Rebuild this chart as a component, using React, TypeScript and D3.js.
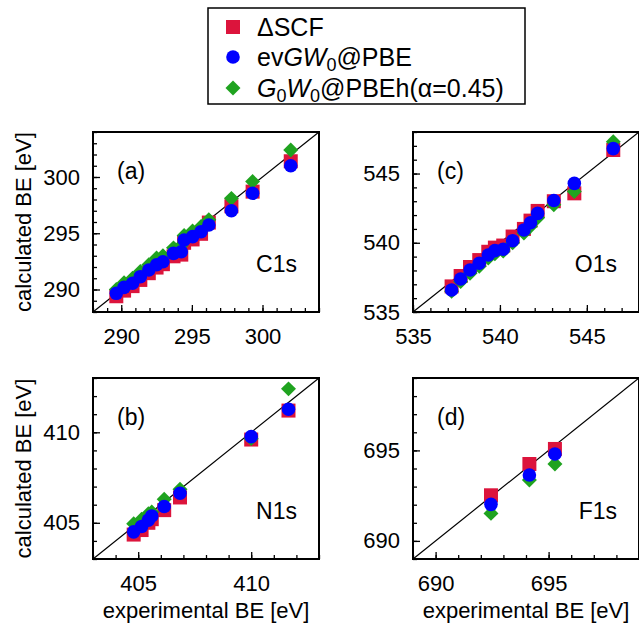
import React, { useEffect, useRef } from "react";
import * as d3 from "d3";

// C1s (panel a)
const c1sExp = [289.65, 290.2, 290.8, 291.35, 291.95, 292.5, 292.95, 293.7, 294.25, 294.45, 295.05, 295.65, 296.2, 297.8, 299.3, 302.0];
const c1sDscf = [289.4, 289.9, 290.3, 290.85, 291.45, 291.95, 292.25, 292.95, 293.1, 294.15, 294.45, 294.95, 295.95, 297.4, 298.7, 301.4];
const c1sEvgw = [289.66, 290.19, 290.55, 291.14, 291.73, 292.2, 292.47, 293.21, 293.36, 294.4, 294.7, 295.14, 295.73, 297.0, 298.55, 301.0];
const c1sG0w0 = [290.0, 290.6, 291.0, 291.6, 292.2, 292.8, 293.0, 293.7, 293.9, 294.8, 295.2, 295.6, 296.2, 298.1, 299.6, 302.4];

// N1s (panel b)
const n1sExp = [404.8, 405.15, 405.45, 405.6, 406.15, 406.85, 410.0, 411.65];
const n1sDscf = [404.35, 404.6, 405.0, 405.2, 405.7, 406.4, 409.6, 411.2];
const n1sEvgw = [404.5, 404.8, 405.15, 405.38, 405.9, 406.63, 409.76, 411.27];
const n1sG0w0 = [404.95, 405.2, 405.5, 405.6, 406.3, 406.85, 409.65, 412.4];

// O1s (panel c)
const o1sExp = [537.22, 537.74, 538.28, 538.81, 539.33, 539.71, 540.19, 540.73, 541.38, 541.76, 542.17, 543.1, 544.28, 546.52];
const o1sDscf = [536.85, 537.6, 538.25, 538.75, 539.35, 539.65, 539.8, 540.45, 541.0, 541.6, 542.3, 543.0, 543.57, 546.7];
const o1sEvgw = [536.59, 537.38, 538.03, 538.52, 539.12, 539.43, 539.53, 540.15, 540.92, 541.45, 542.12, 543.05, 544.29, 546.8];
const o1sG0w0 = [536.5, 537.2, 537.8, 538.3, 538.9, 539.2, 539.4, 540.0, 540.7, 541.2, 541.8, 542.75, 543.7, 547.3];

// F1s (panel d)
const f1sExp = [692.45, 694.15, 695.28];
const f1sDscf = [692.52, 694.25, 695.08];
const f1sEvgw = [692.02, 693.64, 694.8];
const f1sG0w0 = [691.52, 693.36, 694.25];

const panels = [
  { tag: "(a)", core: "C1s", exp: c1sExp, dscf: c1sDscf, evgw: c1sEvgw, g0w0: c1sG0w0, lo: 288, hi: 304, major: [290, 295, 300], col: 0, row: 0 },
  { tag: "(c)", core: "O1s", exp: o1sExp, dscf: o1sDscf, evgw: o1sEvgw, g0w0: o1sG0w0, lo: 535, hi: 548, major: [535, 540, 545], col: 1, row: 0 },
  { tag: "(b)", core: "N1s", exp: n1sExp, dscf: n1sDscf, evgw: n1sEvgw, g0w0: n1sG0w0, lo: 403, hi: 413, major: [405, 410], col: 0, row: 1 },
  { tag: "(d)", core: "F1s", exp: f1sExp, dscf: f1sDscf, evgw: f1sEvgw, g0w0: f1sG0w0, lo: 689, hi: 699, major: [690, 695], col: 1, row: 1 },
];

const RED = "#dc143c";
const BLUE = "#0000ff";
const GREEN = "#1fa31f";

export default function App() {
  const svgRef = useRef<SVGSVGElement>(null);

  useEffect(() => {
    const W = 639;
    const H = 624;
    const svg = d3.select(svgRef.current);
    svg.selectAll("*").remove();
    svg
      .attr("width", W)
      .attr("height", H)
      .style("font-family", "'Liberation Sans', Arial, sans-serif");

    const colX = [93, 413];
    const rowY = [132, 378];
    const pw = 226;
    const ph = [180, 181];

    const square = d3.symbol().type(d3.symbolSquare).size(196);
    const circle = d3.symbol().type(d3.symbolCircle).size(145);
    const diamond = d3.symbol().type(d3.symbolSquare).size(112);

    panels.forEach((p) => {
      const x0 = colX[p.col];
      const y0 = rowY[p.row];
      const h = ph[p.row];
      const g = svg.append("g").attr("transform", `translate(${x0},${y0})`);

      const x = d3.scaleLinear().domain([p.lo, p.hi]).range([0, pw]);
      const y = d3.scaleLinear().domain([p.lo, p.hi]).range([h, 0]);
      const minor = d3.range(p.lo, p.hi + 1);

      // minor ticks (inward)
      g.append("g")
        .attr("transform", `translate(0,${h})`)
        .call(d3.axisBottom(x).tickValues(minor).tickSize(-4).tickFormat(() => ""))
        .call((a) => a.select(".domain").remove())
        .selectAll("line").attr("stroke-width", 1.3);
      g.append("g")
        .call(d3.axisLeft(y).tickValues(minor).tickSize(-4).tickFormat(() => ""))
        .call((a) => a.select(".domain").remove())
        .selectAll("line").attr("stroke-width", 1.3);

      // major ticks + labels
      const xa = g.append("g")
        .attr("transform", `translate(0,${h})`)
        .call(d3.axisBottom(x).tickValues(p.major).tickSize(-7).tickPadding(16).tickFormat(d3.format("d")));
      xa.select(".domain").remove();
      xa.attr("font-family", null).attr("font-size", 22);
      xa.selectAll("line").attr("stroke-width", 1.3);
      xa.selectAll("text").attr("fill", "#000");

      const ya = g.append("g")
        .call(d3.axisLeft(y).tickValues(p.major).tickSize(-7).tickPadding(13).tickFormat(d3.format("d")));
      ya.select(".domain").remove();
      ya.attr("font-family", null).attr("font-size", 22);
      ya.selectAll("line").attr("stroke-width", 1.3);
      ya.selectAll("text").attr("fill", "#000");

      // diagonal
      g.append("line")
        .attr("x1", x(p.lo)).attr("y1", y(p.lo))
        .attr("x2", x(p.hi)).attr("y2", y(p.hi))
        .attr("stroke", "#000").attr("stroke-width", 1.2);

      // markers: ΔSCF, G0W0, evGW0 on top
      g.selectAll(".dscf").data(p.exp).join("path")
        .attr("d", square() as string)
        .attr("transform", (d, i) => `translate(${x(d)},${y(p.dscf[i])})`)
        .attr("fill", RED);
      g.selectAll(".g0w0").data(p.exp).join("path")
        .attr("d", diamond() as string)
        .attr("transform", (d, i) => `translate(${x(d)},${y(p.g0w0[i])}) rotate(45)`)
        .attr("fill", GREEN);
      g.selectAll(".evgw").data(p.exp).join("path")
        .attr("d", circle() as string)
        .attr("transform", (d, i) => `translate(${x(d)},${y(p.evgw[i])})`)
        .attr("fill", BLUE);

      // frame
      g.append("rect")
        .attr("width", pw).attr("height", h)
        .attr("fill", "none").attr("stroke", "#000").attr("stroke-width", 2);

      g.append("text")
        .attr("x", 24).attr("y", 47)
        .attr("font-size", 23)
        .text(p.tag);
      g.append("text")
        .attr("x", pw - 22).attr("y", h - 40)
        .attr("text-anchor", "end")
        .attr("font-size", 23)
        .text(p.core);

      if (p.col === 0) {
        svg.append("text")
          .attr("transform", `translate(31,${y0 + h / 2}) rotate(-90)`)
          .attr("text-anchor", "middle")
          .attr("font-size", 22)
          .text("calculated BE [eV]");
      }
      if (p.row === 1) {
        svg.append("text")
          .attr("x", x0 + pw / 2).attr("y", 618)
          .attr("text-anchor", "middle")
          .attr("font-size", 22)
          .text("experimental BE [eV]");
      }
    });

    // legend
    const lg = svg.append("g");
    lg.append("rect")
      .attr("x", 208).attr("y", 8).attr("width", 317).attr("height", 96)
      .attr("fill", "#fff").attr("stroke", "#000").attr("stroke-width", 1.5);
    const rows = [27, 57, 88];
    lg.append("path").attr("d", square() as string).attr("transform", `translate(233,${rows[0]})`).attr("fill", RED);
    lg.append("path").attr("d", circle() as string).attr("transform", `translate(233,${rows[1]})`).attr("fill", BLUE);
    lg.append("path").attr("d", diamond() as string).attr("transform", `translate(233,${rows[2]}) rotate(45)`).attr("fill", GREEN);

    const t1 = lg.append("text").attr("x", 257).attr("y", rows[0] + 9).attr("font-size", 25);
    t1.text("\u0394SCF");

    const t2 = lg.append("text").attr("x", 257).attr("y", rows[1] + 9).attr("font-size", 25);
    t2.append("tspan").text("ev");
    t2.append("tspan").attr("font-style", "italic").text("GW");
    t2.append("tspan").attr("font-size", 18).attr("dy", 5).text("0");
    t2.append("tspan").attr("dy", -5).text("@PBE");

    const t3 = lg.append("text").attr("x", 257).attr("y", rows[2] + 9).attr("font-size", 25);
    t3.append("tspan").attr("font-style", "italic").text("G");
    t3.append("tspan").attr("font-size", 18).attr("dy", 5).text("0");
    t3.append("tspan").attr("dy", -5).attr("font-style", "italic").text("W");
    t3.append("tspan").attr("font-size", 18).attr("dy", 5).text("0");
    t3.append("tspan").attr("dy", -5).text("@PBEh(\u03b1=0.45)");
  }, []);

  return (
    <div style={{ position: "absolute", left: 0, top: 0 }}>
      <svg ref={svgRef}></svg>
    </div>
  );
}
